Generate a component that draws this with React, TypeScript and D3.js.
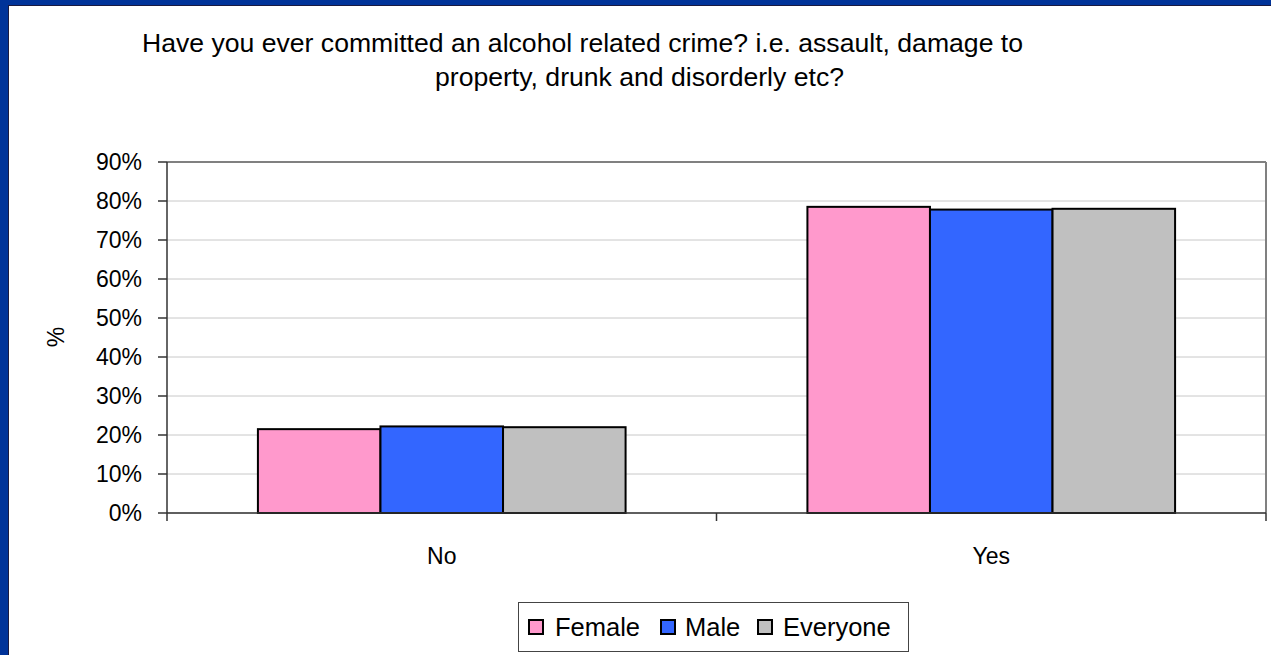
import React from "react";
import * as d3 from "d3";

const categories = ["No", "Yes"];
const seriesNames = ["Female", "Male", "Everyone"];
const female = [21.5, 78.5];
const male = [22.2, 77.8];
const everyone = [22.0, 78.0];
const yTicks = [0, 10, 20, 30, 40, 50, 60, 70, 80, 90];
const colors = ["#FF99CC", "#3366FF", "#C0C0C0"];

const W = 1271;
const H = 655;
const plot = { left: 167, right: 1266, top: 162, bottom: 513 };
const font = "'Liberation Sans', Arial, sans-serif";

export default function App() {
  const series = [female, male, everyone];
  const x0 = d3.scaleBand().domain(categories).range([plot.left, plot.right]).paddingInner(0).paddingOuter(0);
  const groupPad = 91 / 550;
  const x1 = d3
    .scaleBand()
    .domain(seriesNames)
    .range([x0.bandwidth() * groupPad, x0.bandwidth() * (1 - groupPad)]);
  const y = d3.scaleLinear().domain([0, 90]).range([plot.bottom, plot.top]);

  return (
    <svg width={W} height={H} style={{ position: "absolute", left: 0, top: 0 }}>
      <rect x={0} y={0} width={W} height={H} fill="#fff" />
      {/* blue frame */}
      <rect x={0} y={0} width={W} height={5} fill="#003399" />
      <rect x={0} y={0} width={8} height={H} fill="#003399" />
      <line x1={8.5} y1={5} x2={8.5} y2={H} stroke="#1a1a40" strokeWidth={1} />
      <line x1={8} y1={5.5} x2={W} y2={5.5} stroke="#1a1a40" strokeWidth={1} />

      {/* title */}
      <text x={582.5} y={52} textAnchor="middle" fontFamily={font} fontSize={26.6} fill="#000">
        Have you ever committed an alcohol related crime? i.e. assault, damage to
      </text>
      <text x={639.5} y={86} textAnchor="middle" fontFamily={font} fontSize={26.6} fill="#000">
        property, drunk and disorderly etc?
      </text>

      {/* gridlines */}
      {yTicks.map((t) => (
        <line key={t} x1={plot.left} x2={plot.right} y1={y(t)} y2={y(t)} stroke="#c8c8c8" strokeWidth={1} />
      ))}
      {/* plot border top/right */}
      <line x1={plot.left} x2={plot.right} y1={plot.top} y2={plot.top} stroke="#808080" strokeWidth={2} />
      <line x1={plot.right} x2={plot.right} y1={plot.top} y2={plot.bottom} stroke="#808080" strokeWidth={2} />

      {/* bars */}
      {categories.map((c, ci) => (
        <g key={c} transform={`translate(${x0(c)},0)`}>
          {seriesNames.map((s, si) => (
            <rect
              key={s}
              x={x1(s)}
              y={y(series[si][ci])}
              width={x1.bandwidth()}
              height={y(0) - y(series[si][ci])}
              fill={colors[si]}
              stroke="#000"
              strokeWidth={2}
            />
          ))}
        </g>
      ))}

      {/* axes */}
      <line x1={plot.left} x2={plot.left} y1={plot.top} y2={plot.bottom} stroke="#333" strokeWidth={1.5} />
      <line x1={plot.left} x2={plot.right} y1={plot.bottom} y2={plot.bottom} stroke="#333" strokeWidth={1.5} />
      {yTicks.map((t) => (
        <g key={t}>
          <line x1={plot.left - 9} x2={plot.left} y1={y(t)} y2={y(t)} stroke="#333" strokeWidth={1.5} />
          <text x={142} y={y(t) + 8} textAnchor="end" fontFamily={font} fontSize={23} fill="#000">
            {t}%
          </text>
        </g>
      ))}
      {[plot.left, ...categories.map((c) => (x0(c) as number) + x0.bandwidth())].map((xv, i) => (
        <line key={i} x1={xv} x2={xv} y1={plot.bottom} y2={plot.bottom + 8} stroke="#333" strokeWidth={1.5} />
      ))}
      {categories.map((c) => (
        <text
          key={c}
          x={(x0(c) as number) + x0.bandwidth() / 2}
          y={564}
          textAnchor="middle"
          fontFamily={font}
          fontSize={23}
          fill="#000"
        >
          {c}
        </text>
      ))}
      <text transform="translate(64,337) rotate(-90)" textAnchor="middle" fontFamily={font} fontSize={23} fill="#000">
        %
      </text>

      {/* legend */}
      <rect x={518.5} y={602.5} width={390} height={49} fill="#fff" stroke="#444" strokeWidth={1} />
      {(() => {
        const items = [
          { name: seriesNames[0], sx: 529, tx: 555 },
          { name: seriesNames[1], sx: 661, tx: 685 },
          { name: seriesNames[2], sx: 758, tx: 783 },
        ];
        return items.map((it, i) => (
          <g key={it.name}>
            <rect x={it.sx} y={620} width={14} height={14} fill={colors[i]} stroke="#000" strokeWidth={2} />
            <text x={it.tx} y={636} fontFamily={font} fontSize={25.5} fill="#000">
              {it.name}
            </text>
          </g>
        ));
      })()}
    </svg>
  );
}
